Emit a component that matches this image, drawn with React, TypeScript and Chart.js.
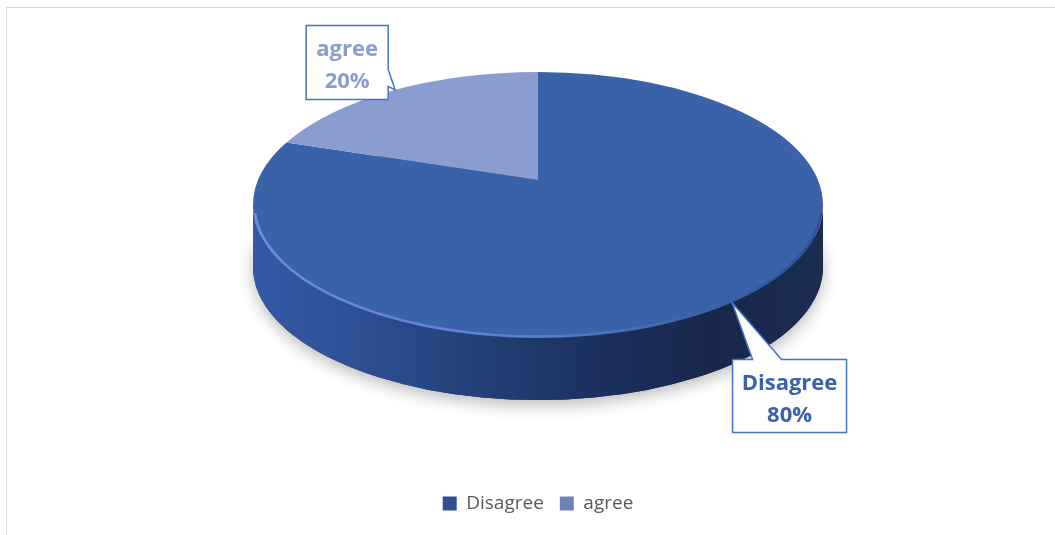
import React, { useEffect, useRef } from 'react';
import { Chart, registerables } from 'chart.js';

Chart.register(...registerables);

// ---- data ----
const categories: string[] = ['Disagree', 'agree'];
const values: number[] = [80, 20];
const percentLabels: string[] = ['80%', '20%'];

// ---- styles ----
const topColors: string[] = ['#3a62a9', '#8b9dd0'];
const sideStops: string[][] = [
  ['#3559a6', '#2d4e92', '#243f76', '#1c3060', '#17284a', '#1b2d52'],
  ['#7b8ec4', '#6f82b8', '#6275a8', '#566896', '#4c5d88', '#52638e'],
];
const legendColors: string[] = ['#2f4f8f', '#6d82b6'];
const labelTextColors: string[] = ['#3a62a9', '#8b9dd0'];
const TILT = 133 / 285; // vertical / horizontal radius
const DEPTH = 62 / 285; // side height / horizontal radius
const PERSPECTIVE = 25 / 133; // how far the pie centre sits above the ellipse centre
const FONT = '"Open Sans", "DejaVu Sans", sans-serif';

type LabelLayout = {
  boxDx: number; boxDy: number; w: number; h: number;
  side: 'top' | 'right'; tailA: number; tailB: number;
};
const labelLayouts: LabelLayout[] = [
  { boxDx: 0.5, boxDy: 57, w: 114, h: 73, side: 'top', tailA: 20, tailB: 49 },
  { boxDx: -89, boxDy: -64.5, w: 82, h: 74, side: 'right', tailA: 44, tailB: 61 },
];

// projective (perspective) map of the unit circle onto itself
const CH = 1 / Math.sqrt(1 - PERSPECTIVE * PERSPECTIVE);
const SH = -PERSPECTIVE * CH;
function proj(theta: number) {
  const c = Math.cos(theta);
  const s = Math.sin(theta);
  const y = s * CH + SH;
  const w = s * SH + CH;
  return { u: c / w, v: y / w };
}
function projAngle(theta: number) {
  const p = proj(theta);
  return Math.atan2(p.v, p.u);
}

function geometry(chart: any) {
  const ca = chart.chartArea;
  const arcs = chart.getDatasetMeta(0).data as any[];
  const rx = ca.width / 2;
  const ry = rx * TILT;
  const depth = rx * DEPTH;
  const cx = (ca.left + ca.right) / 2;
  const cy = ca.top + ry;
  const spans = arcs.map((arc) => {
    const a0 = projAngle(arc.startAngle);
    let a1 = projAngle(arc.endAngle);
    const full = arc.endAngle - arc.startAngle >= 2 * Math.PI - 1e-9;
    if (full) a1 = a0 + 2 * Math.PI;
    else while (a1 <= a0) a1 += 2 * Math.PI;
    return { a0, a1 };
  });
  return { arcs, spans, rx, ry, depth, cx, cy };
}

const pie3d = {
  id: 'pie3d',
  beforeDatasetsDraw(chart: any) {
    const ctx: CanvasRenderingContext2D = chart.ctx;
    const { arcs, spans, rx, ry, depth, cx, cy } = geometry(chart);
    const vx = cx;
    const vy = cy - PERSPECTIVE * ry;
    ctx.save();
    // soft shadow under the pie
    ctx.save();
    ctx.shadowColor = 'rgba(0,0,0,0.28)';
    ctx.shadowBlur = 16;
    ctx.shadowOffsetY = 5;
    ctx.beginPath();
    ctx.ellipse(cx, cy + depth, rx, ry, 0, 0, Math.PI * 2);
    ctx.fillStyle = sideStops[0][3];
    ctx.fill();
    ctx.restore();

    // side walls (front half only)
    arcs.forEach((_arc, i) => {
      const { a0, a1 } = spans[i];
      const grad = ctx.createLinearGradient(cx - rx, 0, cx + rx, 0);
      const stops = sideStops[i];
      stops.forEach((c, k) => grad.addColorStop(k / (stops.length - 1), c));
      for (let k = -2; k <= 2; k++) {
        const s = Math.max(a0, 2 * Math.PI * k);
        const e = Math.min(a1, 2 * Math.PI * k + Math.PI);
        if (e > s) {
          ctx.beginPath();
          ctx.ellipse(cx, cy, rx, ry, 0, s, e);
          ctx.ellipse(cx, cy + depth, rx, ry, 0, e, s, true);
          ctx.closePath();
          ctx.fillStyle = grad;
          ctx.fill();
        }
      }
    });

    // top faces
    arcs.forEach((_arc, i) => {
      const { a0, a1 } = spans[i];
      ctx.beginPath();
      ctx.moveTo(vx, vy);
      ctx.ellipse(cx, cy, rx, ry, 0, a0, a1);
      ctx.closePath();
      ctx.fillStyle = topColors[i];
      ctx.fill();
    });

    // bevel highlight along the front rim
    const rim = ctx.createLinearGradient(cx - rx, 0, cx + rx, 0);
    rim.addColorStop(0, 'rgba(110,150,225,0.9)');
    rim.addColorStop(0.5, 'rgba(95,135,215,0.8)');
    rim.addColorStop(1, 'rgba(40,70,130,0.6)');
    ctx.beginPath();
    ctx.ellipse(cx, cy, rx - 1.5, ry - 1.5, 0, 0.02 * Math.PI, 0.98 * Math.PI);
    ctx.strokeStyle = rim;
    ctx.lineWidth = 2.5;
    ctx.stroke();
    ctx.restore();
    return false;
  },
  afterDraw(chart: any) {
    const ctx: CanvasRenderingContext2D = chart.ctx;
    const { arcs, rx, ry, cx, cy } = geometry(chart);
    ctx.save();
    arcs.forEach((arc, i) => {
      const L = labelLayouts[i];
      const mid = (arc.startAngle + arc.endAngle) / 2;
      const p = proj(mid);
      const tx = cx + p.u * rx;
      const ty = cy + p.v * ry;
      const left = tx + L.boxDx;
      const top = ty + L.boxDy;
      const right = left + L.w;
      const bottom = top + L.h;
      ctx.beginPath();
      ctx.moveTo(left, top);
      if (L.side === 'top') {
        ctx.lineTo(left + L.tailA, top);
        ctx.lineTo(tx, ty);
        ctx.lineTo(left + L.tailB, top);
        ctx.lineTo(right, top);
        ctx.lineTo(right, bottom);
      } else {
        ctx.lineTo(right, top);
        ctx.lineTo(right, top + L.tailA);
        ctx.lineTo(tx, ty);
        ctx.lineTo(right, top + L.tailB);
        ctx.lineTo(right, bottom);
      }
      ctx.lineTo(left, bottom);
      ctx.closePath();
      ctx.fillStyle = '#ffffff';
      ctx.fill();
      ctx.strokeStyle = '#4472c4';
      ctx.lineWidth = 1.5;
      ctx.stroke();

      ctx.fillStyle = labelTextColors[i];
      ctx.font = `bold 22px ${FONT}`;
      ctx.textAlign = 'center';
      ctx.textBaseline = 'alphabetic';
      const mx = (left + right) / 2;
      ctx.fillText(categories[i], mx, top + 31);
      ctx.fillText(percentLabels[i], mx, top + 62.5);
    });
    ctx.restore();
  },
};

export default function App() {
  const canvasRef = useRef<HTMLCanvasElement | null>(null);

  useEffect(() => {
    document.body.style.margin = '0';
    const canvas = canvasRef.current;
    if (!canvas) return;
    const chart = new Chart(canvas, {
      type: 'pie',
      data: {
        labels: categories,
        datasets: [
          {
            data: values,
            backgroundColor: topColors,
            borderWidth: 0,
          },
        ],
      },
      options: {
        animation: false,
        responsive: false,
        maintainAspectRatio: false,
        layout: { padding: { left: 253, right: 232, top: 72, bottom: 12 } },
        plugins: {
          tooltip: { enabled: false },
          legend: {
            display: true,
            position: 'bottom',
            labels: {
              color: '#595959',
              font: { family: FONT, size: 19 },
              boxWidth: 14,
              boxHeight: 14,
              padding: 16,
              generateLabels: (ch: any) =>
                ch.data.labels.map((l: string, i: number) => ({
                  text: l,
                  fillStyle: legendColors[i],
                  strokeStyle: legendColors[i],
                  lineWidth: 0,
                  fontColor: '#595959',
                  hidden: false,
                  index: i,
                })),
            },
          },
        },
      },
      plugins: [pie3d],
    });
    return () => chart.destroy();
  }, []);

  return (
    <div style={{ position: 'fixed', left: 0, top: 0, width: 1055, height: 535, overflow: 'hidden', background: '#fff' }}>
      <div
        style={{
          position: 'absolute', left: 6, top: 7, width: 1100, height: 600,
          borderLeft: '1px solid #d9d9d9', borderTop: '1px solid #d9d9d9',
        }}
      />
      <canvas ref={canvasRef} width={1055} height={535} style={{ position: 'absolute', left: 0, top: 0, width: 1055, height: 535 }} />
    </div>
  );
}
